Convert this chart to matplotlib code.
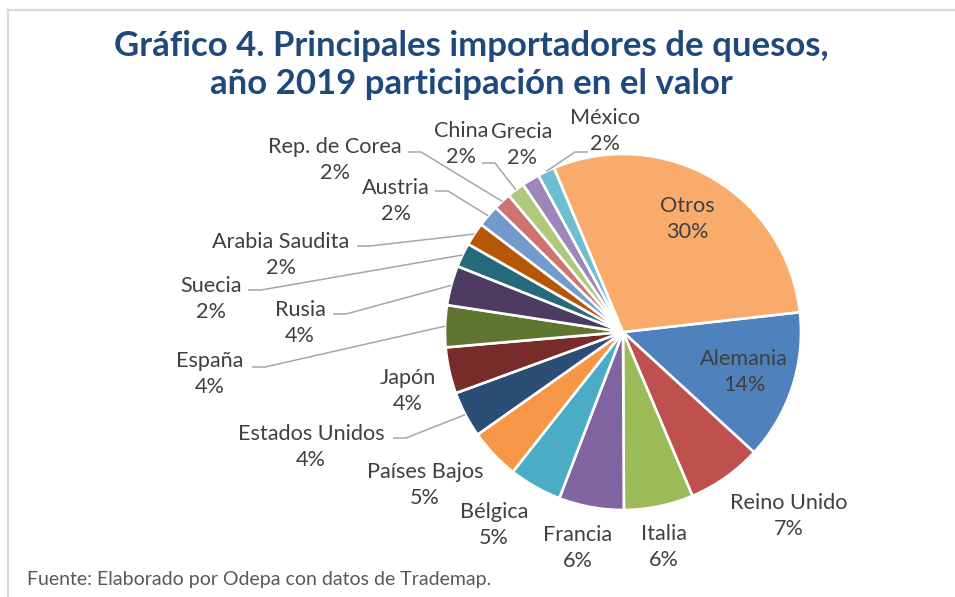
#!/usr/bin/env python3
"""Pie chart of main cheese importers, 2019 share of value"""

import numpy as np
import matplotlib.pyplot as plt

countries = ["Alemania", "Reino Unido", "Italia", "Francia", "Bélgica",
             "Países Bajos", "Estados Unidos", "Japón", "España", "Rusia",
             "Suecia", "Arabia Saudita", "Austria", "Rep. de Corea", "China",
             "Grecia", "México", "Otros"]
shares = [13.6, 6.8, 6.3, 5.9, 4.8, 4.6, 4.2, 4.2, 3.8, 3.6,
          2.2, 2.1, 2.0, 1.6, 1.6, 1.6, 1.55, 29.55]
colors = ["#4F81BD", "#C0504D", "#9BBB59", "#8064A2", "#4BACC6", "#F79646",
          "#2C4D75", "#772C2A", "#5F7530", "#4D3B62", "#276A7C", "#B65708",
          "#729ACA", "#CD7371", "#AFC97A", "#9D87B8", "#6FBDD1", "#F9AB6B"]

# label block centres (pixels, from top-left)
label_pos = {
    "Alemania": (744, 372), "Reino Unido": (789, 516), "Italia": (664, 547),
    "Francia": (578, 548), "Bélgica": (494, 525), "Países Bajos": (425, 485),
    "Estados Unidos": (311, 447), "Japón": (408, 391), "España": (210, 374),
    "Rusia": (300, 323), "Suecia": (211, 299), "Arabia Saudita": (281, 255),
    "Austria": (396, 201), "Rep. de Corea": (335, 160), "China": (461, 144),
    "Grecia": (522, 145), "México": (605, 131), "Otros": (687, 219),
}
# leader line starts (pixels) and shoulder direction
leaders = {
    "Rep. de Corea": (408, 152, 1), "Austria": (435, 191, 1),
    "Arabia Saudita": (357, 246, 1), "Suecia": (248, 290, 1),
    "Rusia": (333, 314, 1), "España": (252, 367, 1),
    "Estados Unidos": (393, 438, 1), "China": (482, 163, 1),
    "México": (588, 152, -1),
}

W, H = 955, 597
cx, cy, r = 623, H - 332, 178
text_col = "#404040"
plt.rcParams["font.family"] = ["Lato", "DejaVu Sans"]

fig = plt.figure(figsize=(W / 100, H / 100), dpi=100)
ax = fig.add_axes([0, 0, 1, 1])
wedges, _ = ax.pie(shares, colors=colors, startangle=6.4, counterclock=False,
                   center=(cx, cy), radius=r,
                   wedgeprops=dict(edgecolor="white", linewidth=1.9))
ax.set_xlim(0, W)
ax.set_ylim(0, H)
ax.axis("off")

total = sum(shares)
for name, val, w in zip(countries, shares, wedges):
    px, py = label_pos[name]
    ax.text(px, H - py, f"{name}\n{val / total * 100:.0f}%", ha="center",
            va="center", fontsize=15.6, color=text_col, linespacing=1.4)
    if name in leaders:
        sx, sy, d = leaders[name]
        mid = np.deg2rad((w.theta1 + w.theta2) / 2)
        ex = cx + r * np.cos(mid)
        ey = cy + r * np.sin(mid)
        ax.plot([sx, sx + 13 * d, ex], [H - sy, H - sy, ey],
                color="#A6A6A6", lw=1.1, solid_capstyle="butt")

# chart frame (top and left edges visible)
ax.plot([8, W], [H - 10, H - 10], color="#D9D9D9", lw=1.6)
ax.plot([8, 8], [H - 10, 0], color="#D9D9D9", lw=1.6)

ax.text(471, H - 65, "Gráfico 4. Principales importadores de quesos,\n"
        "año 2019 participación en el valor", ha="center", va="center",
        fontsize=25, fontweight="bold", color="#1F497D", linespacing=1.2)
ax.text(27, H - 580, "Fuente: Elaborado por Odepa con datos de Trademap.",
        ha="left", va="center", fontsize=14, color="#595959")

fig.savefig("out.png", dpi=100)
